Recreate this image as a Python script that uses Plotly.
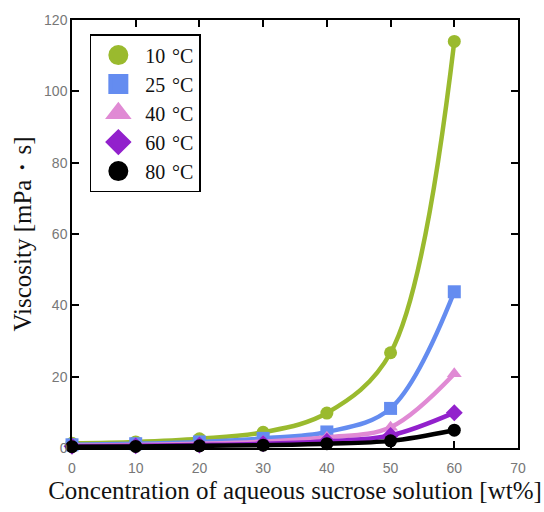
import plotly.graph_objects as go

conc = [0, 10, 20, 30, 40, 50, 60]
labels = ["10\u2004°C", "25\u2004°C", "40\u2004°C", "60\u2004°C", "80\u2004°C"]
v10 = [1.3, 1.7, 2.6, 4.4, 9.8, 26.7, 114.0]
v25 = [0.9, 1.2, 1.7, 2.7, 4.5, 11.1, 43.8]
v40 = [0.65, 0.85, 1.2, 1.8, 3.0, 5.8, 20.8]
v60 = [0.47, 0.6, 0.85, 1.2, 1.9, 3.5, 9.9]
v80 = [0.36, 0.45, 0.6, 0.8, 1.2, 2.0, 5.0]
series = [v10, v25, v40, v60, v80]
colors = ["#9aba2e", "#648cf0", "#e08ad4", "#9221cc", "#000000"]
symbols = ["circle", "square", "triangle-up", "diamond", "circle"]

fig = go.Figure()
for lab, vals, col, sym in zip(labels, series, colors, symbols):
    fig.add_trace(go.Scatter(
        x=conc, y=vals, mode="lines+markers", showlegend=False,
        line=dict(color=col, width=4.5, shape="spline", smoothing=1.0),
        marker=dict(color=col, symbol=sym, size=13),
        cliponaxis=False,
    ))
for lab, col, sym in zip(labels, colors, symbols):
    fig.add_trace(go.Scatter(
        x=[None], y=[None], mode="markers", name=lab,
        marker=dict(color=col, symbol=sym, size=22, line=dict(color=col, width=4)),
    ))

tickfont = dict(family="Liberation Sans, Arial", size=14, color="#777777")
axis_common = dict(
    showline=True, linecolor="black", linewidth=1.5, mirror="ticks",
    ticks="inside", ticklen=7, tickwidth=1.5, tickcolor="black",
    showgrid=False, zeroline=False, tickfont=tickfont,
)
titlefont = dict(family="Liberation Serif, Times New Roman", size=25, color="#111")
fig.update_xaxes(range=[0, 70], dtick=10, ticklabelstandoff=6, **axis_common,
                 title=dict(text="Concentration of aqueous sucrose solution [wt%]",
                            font=titlefont, standoff=7))
fig.update_yaxes(range=[0, 120], dtick=20, **axis_common,
                 title=dict(text="Viscosity [mPa・s]", font=titlefont, standoff=5))
fig.update_layout(
    width=544, height=512,
    margin=dict(l=72, r=26, t=17, b=64),
    plot_bgcolor="white", paper_bgcolor="white",
    legend=dict(x=0.04, y=0.967, xanchor="left", yanchor="top",
                bordercolor="black", borderwidth=1.5, bgcolor="white",
                font=dict(family="Liberation Serif, Times New Roman", size=20, color="#111"),
                itemsizing="trace", itemwidth=44),
)
fig.write_html("out.html")
